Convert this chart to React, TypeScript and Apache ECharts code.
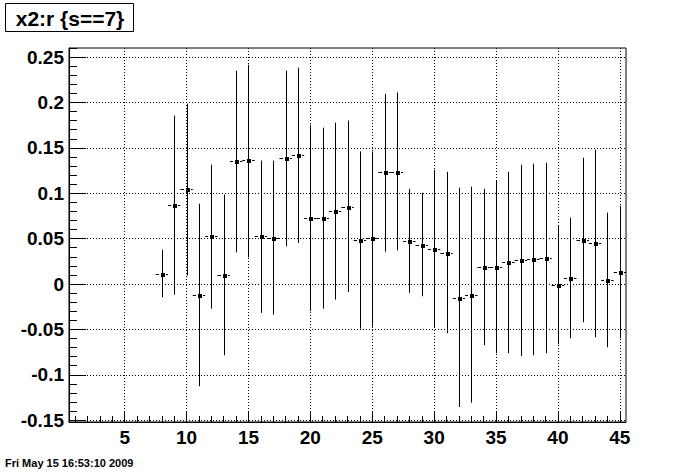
import React, { useEffect, useRef } from "react";
import * as echarts from "echarts";

// ---- data (profile of x2 vs r, s==7) ----
const binX = [8, 9, 10, 11, 12, 13, 14, 15, 16, 17, 18, 19, 20, 21, 22, 23, 24, 25, 26, 27, 28, 29, 30, 31, 32, 33, 34, 35, 36, 37, 38, 39, 40, 41, 42, 43, 44, 45];
const meanY = [0.0115, 0.0871, 0.1047, -0.012, 0.0528, 0.01, 0.1356, 0.1367, 0.053, 0.0508, 0.1389, 0.1422, 0.0728, 0.0728, 0.0805, 0.085, 0.0485, 0.051, 0.1234, 0.1234, 0.0474, 0.043, 0.0386, 0.0342, -0.0153, -0.012, 0.0188, 0.0188, 0.0243, 0.0265, 0.0276, 0.0287, -0.001, 0.0067, 0.0485, 0.0452, 0.0045, 0.0133];
const lowY = [-0.0146, -0.0117, 0.0093, -0.1126, -0.0271, -0.0785, 0.0349, 0.0294, -0.0318, -0.0337, 0.0415, 0.0452, -0.03, -0.0271, -0.0172, -0.0087, -0.0491, -0.0469, 0.0357, 0.0371, -0.0098, -0.0135, -0.0476, -0.0542, -0.1355, -0.1307, -0.0674, -0.0762, -0.0762, -0.0795, -0.0784, -0.0762, -0.0664, -0.0598, -0.0421, -0.0587, -0.0697, -0.0598];
const highY = [0.0378, 0.1855, 0.1987, 0.0885, 0.1315, 0.0985, 0.235, 0.2416, 0.136, 0.1359, 0.235, 0.2383, 0.1755, 0.1722, 0.1777, 0.18, 0.1461, 0.146, 0.2094, 0.2111, 0.1049, 0.1005, 0.1258, 0.1236, 0.1061, 0.1072, 0.1049, 0.1137, 0.1236, 0.1314, 0.1325, 0.1336, 0.0643, 0.0731, 0.1391, 0.148, 0.0786, 0.0863];

const xMajorTicks = [5, 10, 15, 20, 25, 30, 35, 40, 45];
const xMinorTicks = [1, 2, 3, 4, 6, 7, 8, 9, 11, 12, 13, 14, 16, 17, 18, 19, 21, 22, 23, 24, 26, 27, 28, 29, 31, 32, 33, 34, 36, 37, 38, 39, 41, 42, 43, 44];
const yMajorTicks = [-0.15, -0.1, -0.05, 0, 0.05, 0.1, 0.15, 0.2, 0.25];
const yMinorTicks: number[] = [];
for (let i = -15; i <= 26; i++) {
  if (i % 5 !== 0) yMinorTicks.push(i / 100);
}

const titleText = "x2:r {s==7}";
const dateText = "Fri May 15 16:53:10 2009";

const X_MIN = 0.5;
const X_MAX = 45.5;
const Y_MIN = -0.152;
const Y_MAX = 0.26;

const FONT = "'Liberation Sans', Arial, Helvetica, sans-serif";

export default function App() {
  const ref = useRef<HTMLDivElement>(null);

  useEffect(() => {
    if (!ref.current) return;
    const chart = echarts.init(ref.current, null, { renderer: "svg" });

    const data = binX.map((x, i) => [x, meanY[i], lowY[i], highY[i]]);
    const labelFmt = (v: number) => String(Math.round(v * 100) / 100);

    const option: any = {
      animation: false,
      backgroundColor: "#ffffff",
      grid: {
        left: 69,
        right: 70,
        top: 48,
        bottom: 50,
        show: true,
        borderColor: "#000",
        borderWidth: 1,
        backgroundColor: "transparent",
      },
      xAxis: [
        {
          type: "value",
          min: X_MIN,
          max: X_MAX,
          position: "bottom",
          axisLine: { show: true, onZero: false, lineStyle: { color: "#000", width: 1 } },
          axisTick: { show: true, inside: true, length: 11, customValues: xMajorTicks, lineStyle: { color: "#000" } },
          axisLabel: {
            show: true,
            customValues: xMajorTicks,
            formatter: labelFmt,
            color: "#000",
            fontFamily: FONT,
            fontWeight: "bold",
            fontSize: 19,
            margin: 6,
          },
          splitLine: { show: true, lineStyle: { color: "#000", width: 1, type: [1, 2] } },
        },
        {
          type: "value",
          min: X_MIN,
          max: X_MAX,
          position: "bottom",
          axisLine: { show: false, onZero: false },
          axisTick: { show: true, inside: true, length: 6, customValues: xMinorTicks, lineStyle: { color: "#000" } },
          axisLabel: { show: false },
          splitLine: { show: false },
        },
      ],
      yAxis: [
        {
          type: "value",
          min: Y_MIN,
          max: Y_MAX,
          position: "left",
          axisLine: { show: true, onZero: false, lineStyle: { color: "#000", width: 1 } },
          axisTick: { show: true, inside: true, length: 17, customValues: yMajorTicks, lineStyle: { color: "#000" } },
          axisLabel: {
            show: true,
            customValues: yMajorTicks,
            formatter: labelFmt,
            color: "#000",
            fontFamily: FONT,
            fontWeight: "bold",
            fontSize: 19,
            margin: 5,
          },
          splitLine: { show: true, lineStyle: { color: "#000", width: 1, type: [1, 2] } },
        },
        {
          type: "value",
          min: Y_MIN,
          max: Y_MAX,
          position: "left",
          axisLine: { show: false, onZero: false },
          axisTick: { show: true, inside: true, length: 8, customValues: yMinorTicks, lineStyle: { color: "#000" } },
          axisLabel: { show: false },
          splitLine: { show: false },
        },
      ],
      series: [
        {
          type: "custom",
          xAxisIndex: 0,
          yAxisIndex: 0,
          data,
          encode: { x: 0, y: [1, 2, 3] },
          renderItem: (params: any, api: any) => {
            const x = api.value(0);
            const m = api.value(1);
            const lo = api.value(2);
            const hi = api.value(3);
            const pm = api.coord([x, m]);
            const plo = api.coord([x, lo]);
            const phi = api.coord([x, hi]);
            const pl = api.coord([x - 0.5, m]);
            const pr = api.coord([x + 0.5, m]);
            const cx = Math.round(pm[0]) + 0.5;
            const cy = Math.round(pm[1]) + 0.5;
            const st = { stroke: "#000", lineWidth: 1, fill: "none" };
            return {
              type: "group",
              children: [
                { type: "line", shape: { x1: cx, y1: phi[1], x2: cx, y2: plo[1] }, style: st },
                { type: "line", shape: { x1: pl[0], y1: cy, x2: cx - 3.5, y2: cy }, style: st },
                { type: "line", shape: { x1: cx + 3.5, y1: cy, x2: pr[0], y2: cy }, style: st },
                { type: "rect", shape: { x: cx - 1.5, y: cy - 1.5, width: 4, height: 4 }, style: { fill: "#000", stroke: "none" } },
              ],
            };
          },
        },
      ],
      graphic: [
        {
          type: "rect",
          shape: { x: 5.5, y: 3.5, width: 128, height: 28 },
          style: { fill: "#fff", stroke: "#000", lineWidth: 1 },
          z: 10,
        },
        {
          type: "text",
          x: 70,
          y: 18,
          style: {
            text: titleText,
            fill: "#000",
            font: `bold 21px ${FONT}`,
            textAlign: "center",
            textVerticalAlign: "middle",
          },
          z: 11,
        },
        {
          type: "text",
          x: 5,
          y: 463,
          style: {
            text: dateText,
            fill: "#000",
            font: `bold 11px ${FONT}`,
            textAlign: "left",
            textVerticalAlign: "middle",
          },
          z: 11,
        },
      ],
    };

    chart.setOption(option);
    return () => {
      chart.dispose();
    };
  }, []);

  return (
    <div
      ref={ref}
      style={{ position: "fixed", left: 0, top: 0, width: 696, height: 472, background: "#fff" }}
    />
  );
}
